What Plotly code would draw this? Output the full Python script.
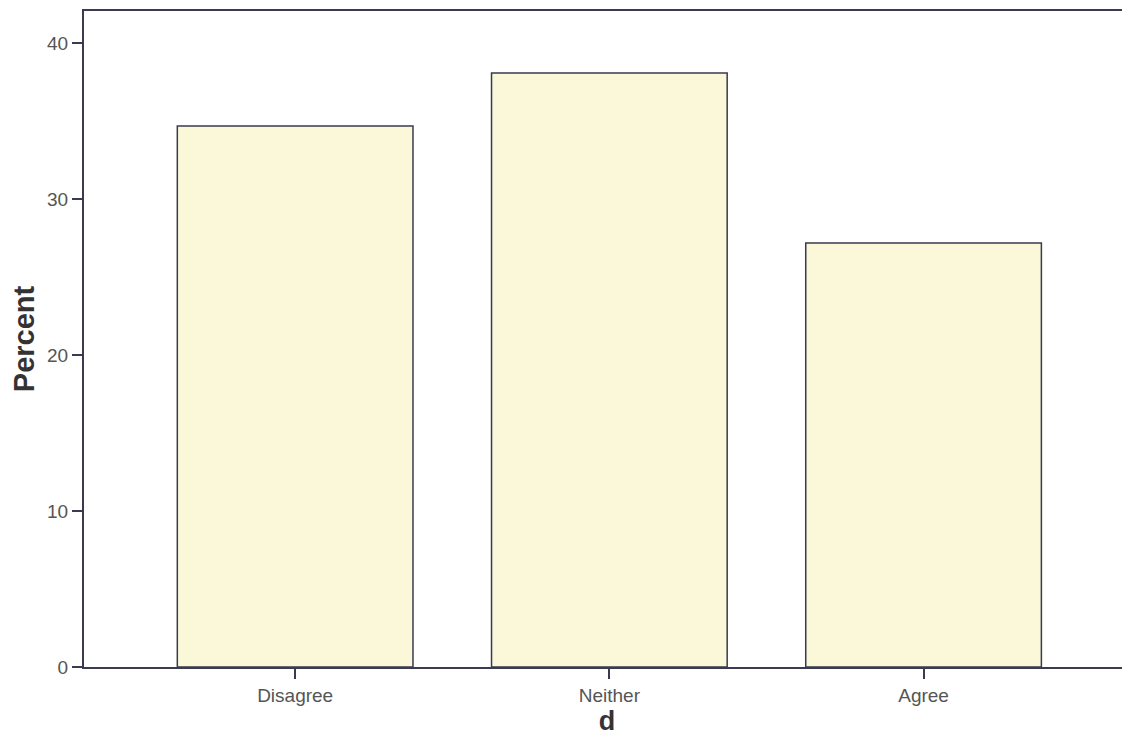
import plotly.graph_objects as go

categories = ["Disagree", "Neither", "Agree"]
percent = [34.7, 38.1, 27.2]
y_tickvals = [0, 10, 20, 30, 40]

fig = go.Figure()
fig.add_trace(go.Bar(
    x=categories,
    y=percent,
    width=0.75,
    marker=dict(color="#FAF8D9", line=dict(color="#3a3a4e", width=1.5)),
    showlegend=False,
))

axis_color = "#3a3a52"
# page body has an 8px default margin, so the figure is offset by 8px
fig.update_layout(
    width=1122, height=739,
    margin=dict(l=76, r=0, t=3, b=80),
    paper_bgcolor="white", plot_bgcolor="white",
    font=dict(family="Arial, Liberation Sans, sans-serif", color="#555555", size=19),
    xaxis=dict(
        type="category",
        range=[-0.672, 2.657],
        showgrid=False, zeroline=False,
        showline=True, linecolor=axis_color, linewidth=2,
        mirror=True,
        ticks="outside", ticklen=10, tickcolor=axis_color, tickwidth=1.5,
        tickfont=dict(size=19, color="#555555"),
        title=dict(text="<b>d</b>", font=dict(size=27, color="#333333"), standoff=0),
    ),
    yaxis=dict(
        range=[0, 42.08],
        tickvals=y_tickvals,
        showgrid=False, zeroline=False,
        showline=True, linecolor=axis_color, linewidth=2,
        ticks="outside", ticklen=10, tickcolor=axis_color, tickwidth=1.5,
        tickfont=dict(size=19, color="#555555"),
        title=dict(text="<b>Percent</b>", font=dict(size=29, color="#333333"), standoff=7),
    ),
)

fig.write_html("out.html")
